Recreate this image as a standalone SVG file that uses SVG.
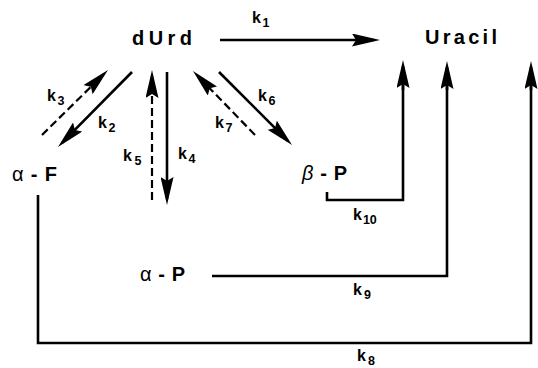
<svg xmlns="http://www.w3.org/2000/svg" width="538" height="368" viewBox="0 0 538 368">
<style>
.lbl{font-family:"Liberation Sans",Arial,sans-serif;font-weight:bold;font-size:20px;fill:#000}
.gr{font-weight:normal}
.it{font-style:italic;font-weight:normal}
.k{font-family:"Liberation Sans",Arial,sans-serif;font-weight:bold;font-size:16px;fill:#000}
.sub{font-size:12.5px}
.ln{fill:none;stroke:#000;stroke-width:2.6;marker-end:url(#ah)}
.pl{fill:none;stroke:#000;stroke-width:2.6;stroke-linejoin:miter}
.ds{fill:none;stroke:#000;stroke-width:2.2;stroke-dasharray:8 4;marker-end:url(#ah)}
</style>
<defs>
<marker id="ah" viewBox="0 0 28 13" markerWidth="28" markerHeight="13" refX="22" refY="6.5" orient="auto" markerUnits="userSpaceOnUse">
<path d="M0,0 L28,6.5 L0,13 L4,6.5 z" fill="#000"/>
</marker>
</defs>
<rect width="538" height="368" fill="#fff"/>
<g id="dUrd"><text class="lbl" x="132" y="45" textLength="60" lengthAdjust="spacing">dUrd</text></g>
<g id="Uracil"><text class="lbl" x="425" y="44" textLength="72" lengthAdjust="spacing">Uracil</text></g>
<g id="alphaF"><text class="lbl" x="12" y="181" textLength="45" lengthAdjust="spacing"><tspan class="gr">α</tspan>-F</text></g>
<g id="betaP"><text class="lbl" x="302" y="180" textLength="45" lengthAdjust="spacing"><tspan class="it">β</tspan>-P</text></g>
<g id="alphaP"><text class="lbl" x="140" y="281" textLength="45" lengthAdjust="spacing"><tspan class="gr">α</tspan>-P</text></g>
<g id="connectors">
<path class="ln" d="M220,40 H374"/>
<path class="ln" d="M132,72 L62.2,142.7"/>
<path class="ds" d="M42,135 L103.7,74.2"/>
<path class="ds" d="M152,200 V76"/>
<path class="ln" d="M167,72 V199"/>
<path class="ds" d="M255,135 L197.2,75.3"/>
<path class="ln" d="M219,72 L287.8,140.8"/>
<path class="pl" d="M327,192 V200 H403 V80"/>
<path class="ln" d="M403,90 V66"/>
<path class="pl" d="M212,276 H447 V80"/>
<path class="ln" d="M447,90 V67"/>
<path class="pl" d="M38,195 V343 H531 V80"/>
<path class="ln" d="M531,90 V67"/>
</g>
<g id="labels">
<text class="k" x="252" y="23">k<tspan class="sub" dx="1.5" dy="4">1</tspan></text>
<text class="k" x="47" y="101">k<tspan class="sub" dx="1.5" dy="4">3</tspan></text>
<text class="k" x="98" y="128">k<tspan class="sub" dx="1.5" dy="4">2</tspan></text>
<text class="k" x="123" y="161">k<tspan class="sub" dx="2.5" dy="4">5</tspan></text>
<text class="k" x="178" y="159">k<tspan class="sub" dx="1.5" dy="4">4</tspan></text>
<text class="k" x="215" y="128">k<tspan class="sub" dx="1.5" dy="4">7</tspan></text>
<text class="k" x="258" y="101">k<tspan class="sub" dx="1.5" dy="4">6</tspan></text>
<text class="k" x="353" y="220">k<tspan class="sub" dx="1" dy="4">10</tspan></text>
<text class="k" x="353" y="295">k<tspan class="sub" dx="2" dy="4">9</tspan></text>
<text class="k" x="357" y="361">k<tspan class="sub" dx="2" dy="4">8</tspan></text>
</g>
</svg>
